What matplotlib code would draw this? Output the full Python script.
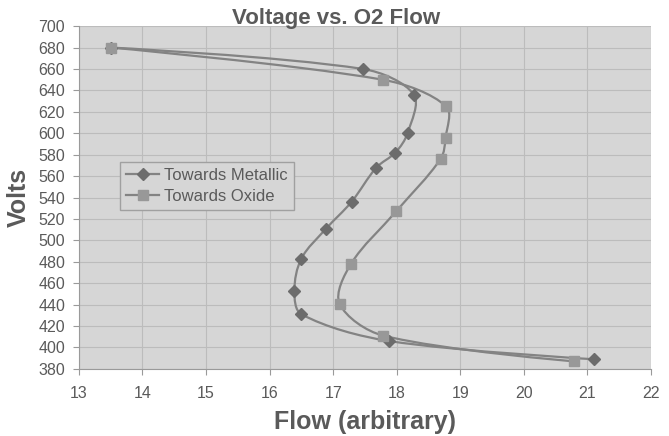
import matplotlib
matplotlib.use("Agg")
import matplotlib.pyplot as plt
from matplotlib.path import Path
from matplotlib.patches import PathPatch
import math

# values
metallic_flow = [13.5, 17.47, 18.27, 18.17, 17.98, 17.68, 17.29, 16.89, 16.50, 16.39, 16.50, 17.88, 21.10]
metallic_volts = [680, 660, 636, 600, 582, 568, 536, 511, 483, 453, 431, 406, 389]
oxide_flow = [13.5, 17.78, 18.78, 18.77, 18.69, 17.99, 17.28, 17.10, 17.79, 20.79]
oxide_volts = [680, 650, 625, 596, 576, 527, 478, 441, 411, 387]

x_ticks = list(range(13, 23))
y_ticks = list(range(380, 701, 20))

plt.rcParams['font.family'] = ['Liberation Sans', 'DejaVu Sans']
text_color = '#5a5a5a'
line_color = '#838383'


def smooth_path(xs, ys, sx=63.5, sy=1.073):
    # Excel-like smoothed line: cubic Beziers whose tangents are weighted
    # by the on-screen lengths of neighbouring segments
    pts = list(zip(xs, ys))
    n = len(pts)

    def dist(a, b):
        return math.hypot((a[0] - b[0]) * sx, (a[1] - b[1]) * sy)

    verts = [pts[0]]
    codes = [Path.MOVETO]
    for i in range(n - 1):
        p0 = pts[i - 1] if i > 0 else pts[i]
        p1 = pts[i]
        p2 = pts[i + 1]
        p3 = pts[i + 2] if i + 2 < n else pts[i + 1]
        d01, d12, d23 = dist(p0, p1), dist(p1, p2), dist(p2, p3)
        f1 = d12 / (d01 + d12) / 1.5 if d01 > 0 else 0
        f2 = d12 / (d12 + d23) / 1.5 if d23 > 0 else 0
        c1 = (p1[0] + (p2[0] - p0[0]) * f1 / 2, p1[1] + (p2[1] - p0[1]) * f1 / 2)
        c2 = (p2[0] - (p3[0] - p1[0]) * f2 / 2, p2[1] - (p3[1] - p1[1]) * f2 / 2)
        verts += [c1, c2, p2]
        codes += [Path.CURVE4] * 3
    return Path(verts, codes)


fig = plt.figure(figsize=(6.69, 4.36), dpi=100, facecolor='white')
ax = fig.add_axes([0.118, 0.154, 0.855, 0.786])
ax.set_facecolor('#d6d6d6')

for xs, ys in [(metallic_flow, metallic_volts), (oxide_flow, oxide_volts)]:
    ax.add_patch(PathPatch(smooth_path(xs, ys), facecolor='none',
                           edgecolor=line_color, lw=1.6, zorder=3))

ax.plot(metallic_flow, metallic_volts, linestyle='none', marker='D', ms=6.5,
        color='#6c6c6c', zorder=4)
ax.plot(oxide_flow, oxide_volts, linestyle='none', marker='s', ms=6.5,
        color='#989898', zorder=4)

# legend handles with line + marker
h1, = ax.plot([], [], color=line_color, lw=1.6, marker='D', ms=6,
              mfc='#6c6c6c', mec='#6c6c6c')
h2, = ax.plot([], [], color=line_color, lw=1.6, marker='s', ms=6.5,
              mfc='#989898', mec='#989898')
leg = ax.legend([h1, h2], ['Towards Metallic', 'Towards Oxide'],
                loc='upper left', bbox_to_anchor=(0.072, 0.603), fontsize=12,
                frameon=True, fancybox=False, framealpha=1, handlelength=2.0,
                handletextpad=0.3, borderpad=0.35, labelspacing=0.35,
                borderaxespad=0)
leg.get_frame().set_facecolor('#d6d6d6')
leg.get_frame().set_edgecolor('#a0a0a0')
for t in leg.get_texts():
    t.set_color(text_color)

ax.set_xlim(13, 22)
ax.set_ylim(380, 700)
ax.set_xticks(x_ticks)
ax.set_yticks(y_ticks)
ax.grid(True, color='#bcbcbc', lw=0.8)
ax.set_axisbelow(True)

for side in ['top', 'right']:
    ax.spines[side].set_visible(False)
for side in ['left', 'bottom']:
    ax.spines[side].set_color('#9a9a9a')
ax.tick_params(colors='#9a9a9a', labelcolor=text_color, labelsize=11.5,
               length=4, direction='out')
ax.tick_params(axis='x', pad=8)
ax.tick_params(axis='y', pad=6)

ax.set_xlabel('Flow (arbitrary)', fontsize=18, fontweight='bold',
              color=text_color, labelpad=7)
ax.set_ylabel('Volts', fontsize=18, fontweight='bold', color=text_color,
              labelpad=5)
fig.text(0.503, 0.958, 'Voltage vs. O2 Flow', ha='center', va='center',
         fontsize=16, fontweight='bold', color=text_color)

fig.savefig('out.png', dpi=100, facecolor='white')
